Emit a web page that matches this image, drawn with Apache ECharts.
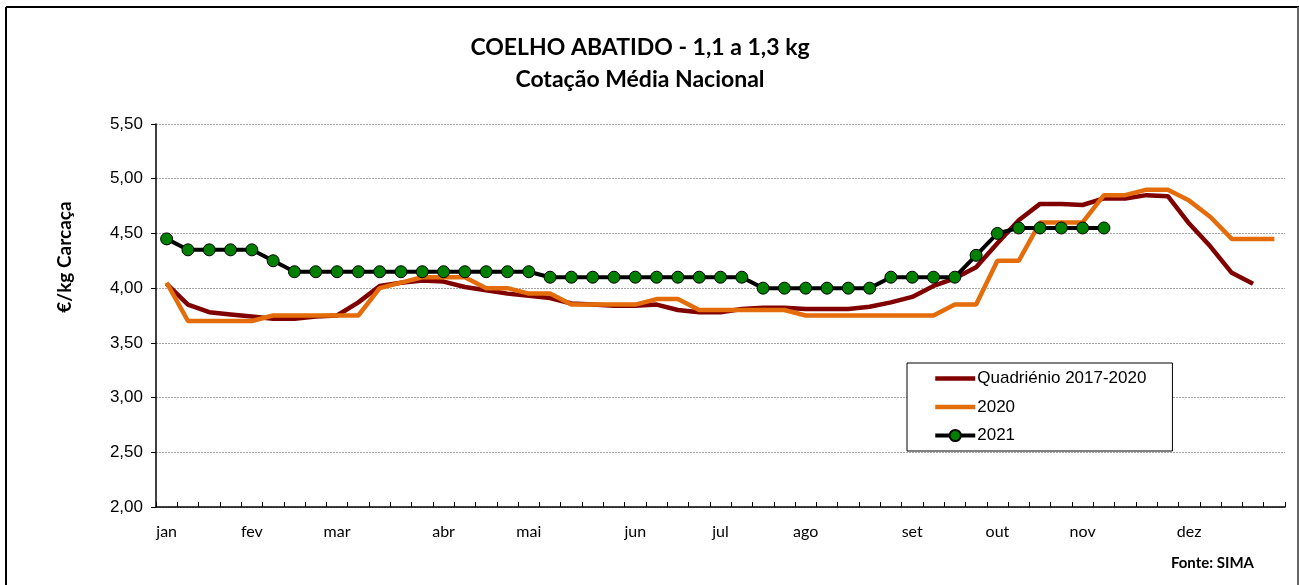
<!DOCTYPE html>
<html>
<head>
<meta charset="utf-8">
<script src="https://cdn.jsdelivr.net/npm/echarts@6/dist/echarts.min.js"></script>
<style>
html,body{margin:0;padding:0;background:#fff;}
#chart{width:1299px;height:585px;}
</style>
</head>
<body>
<div id="chart"></div>
<script>
// 53 weekly categories
const weeks = Array.from({length: 53}, (_, i) => 'S' + (i + 1));
// month label shown under a given week index
const monthLabels = {0:'jan',4:'fev',8:'mar',13:'abr',17:'mai',22:'jun',26:'jul',30:'ago',35:'set',39:'out',43:'nov',48:'dez'};
const yTicks = [2.0, 2.5, 3.0, 3.5, 4.0, 4.5, 5.0, 5.5];

const quadrienio = [4.04,3.85,3.78,3.76,3.74,3.72,3.72,3.74,3.75,3.87,4.02,4.05,4.07,4.06,4.01,3.98,3.95,3.93,3.91,3.86,3.85,3.84,3.84,3.85,3.80,3.78,3.78,3.81,3.82,3.82,3.81,3.81,3.81,3.83,3.87,3.92,4.02,4.09,4.19,4.41,4.62,4.77,4.77,4.76,4.82,4.82,4.85,4.84,4.59,4.38,4.14,4.04];
const y2020 = [4.05,3.70,3.70,3.70,3.70,3.75,3.75,3.75,3.75,3.75,4.00,4.05,4.10,4.10,4.10,4.00,4.00,3.95,3.95,3.85,3.85,3.85,3.85,3.90,3.90,3.80,3.80,3.80,3.80,3.80,3.75,3.75,3.75,3.75,3.75,3.75,3.75,3.85,3.85,4.25,4.25,4.60,4.60,4.60,4.85,4.85,4.90,4.90,4.80,4.65,4.45,4.45,4.45];
const y2021 = [4.45,4.35,4.35,4.35,4.35,4.25,4.15,4.15,4.15,4.15,4.15,4.15,4.15,4.15,4.15,4.15,4.15,4.15,4.10,4.10,4.10,4.10,4.10,4.10,4.10,4.10,4.10,4.10,4.00,4.00,4.00,4.00,4.00,4.00,4.10,4.10,4.10,4.10,4.30,4.50,4.55,4.55,4.55,4.55,4.55];

const chart = echarts.init(document.getElementById('chart'), null, {renderer: 'canvas'});
chart.setOption({
  animation: false,
  backgroundColor: '#ffffff',
  grid: {left: 156, right: 14, top: 124, bottom: 78, containLabel: false},
  graphic: [
    {type: 'line', shape: {x1: 6, y1: 7, x2: 1299, y2: 7}, style: {stroke: '#000', lineWidth: 2}, silent: true},
    {type: 'line', shape: {x1: 6, y1: 7, x2: 6, y2: 585}, style: {stroke: '#000', lineWidth: 2}, silent: true},
    {type: 'line', shape: {x1: 1298, y1: 7, x2: 1298, y2: 585}, style: {stroke: '#666', lineWidth: 2}, silent: true},
    {type: 'text', x: 640, y: 48, style: {text: 'COELHO ABATIDO - 1,1 a 1,3 kg', font: 'bold 23px Lato', fill: '#000', align: 'center', verticalAlign: 'middle'}},
    {type: 'text', x: 640, y: 80, style: {text: 'Cotação Média Nacional', font: 'bold 23px Lato', fill: '#000', align: 'center', verticalAlign: 'middle'}},
    {type: 'text', x: 65, y: 257, rotation: Math.PI / 2, style: {text: '€/kg Carcaça', font: 'bold 19px Lato', fill: '#000', align: 'center', verticalAlign: 'middle'}},
    {type: 'text', x: 1254, y: 563, style: {text: 'Fonte: SIMA', font: 'bold 15px Lato', fill: '#000', align: 'right', verticalAlign: 'middle'}}
  ],
  legend: {
    orient: 'vertical',
    left: 907, top: 363,
    padding: [7, 26, 7, 26],
    itemWidth: 40, itemHeight: 14, itemGap: 11.5,
    borderColor: '#000', borderWidth: 1,
    backgroundColor: '#fff',
    textStyle: {fontFamily: 'Liberation Sans', fontSize: 17, color: '#000', padding: [0, 0, 0, -3]},
    data: [
      {name: 'Quadriénio 2017-2020', itemStyle: {opacity: 0}, lineStyle: {width: 4.5}},
      {name: '2020', itemStyle: {opacity: 0}, lineStyle: {width: 4.5}},
      {name: '2021', lineStyle: {width: 4}}
    ]
  },
  xAxis: {
    type: 'category',
    data: weeks,
    boundaryGap: true,
    axisLine: {lineStyle: {color: '#000', width: 1.5}},
    axisTick: {show: true, inside: true, length: 5, interval: 0, lineStyle: {color: '#000', width: 1}},
    axisLabel: {
      interval: 0, margin: 17,
      fontFamily: 'Lato', fontSize: 16, color: '#000',
      formatter: (v, i) => monthLabels[i] || ''
    },
    splitLine: {show: false}
  },
  yAxis: {
    type: 'value',
    min: yTicks[0], max: yTicks[yTicks.length - 1], interval: 0.5,
    axisLine: {show: true, lineStyle: {color: '#000', width: 1.5}},
    axisTick: {show: true, length: 5, lineStyle: {color: '#000'}},
    axisLabel: {margin: 13, fontFamily: 'Liberation Sans', fontSize: 17, color: '#000',
      formatter: v => v.toFixed(2).replace('.', ',')},
    splitLine: {show: true, lineStyle: {color: '#a6a6a6', type: [2, 1], width: 1}}
  },
  series: [
    {name: 'Quadriénio 2017-2020', type: 'line', data: quadrienio, symbol: 'none', z: 2,
      lineStyle: {color: '#800000', width: 4.5}, itemStyle: {color: '#800000'}},
    {name: '2020', type: 'line', data: y2020, symbol: 'none', z: 3,
      lineStyle: {color: '#E46C0A', width: 4.5}, itemStyle: {color: '#E46C0A'}},
    {name: '2021', type: 'line', data: y2021, symbol: 'circle', symbolSize: 12, z: 4,
      lineStyle: {color: '#000', width: 4},
      itemStyle: {color: '#008000', borderColor: '#000', borderWidth: 1}}
  ]
});
</script>
</body>
</html>
